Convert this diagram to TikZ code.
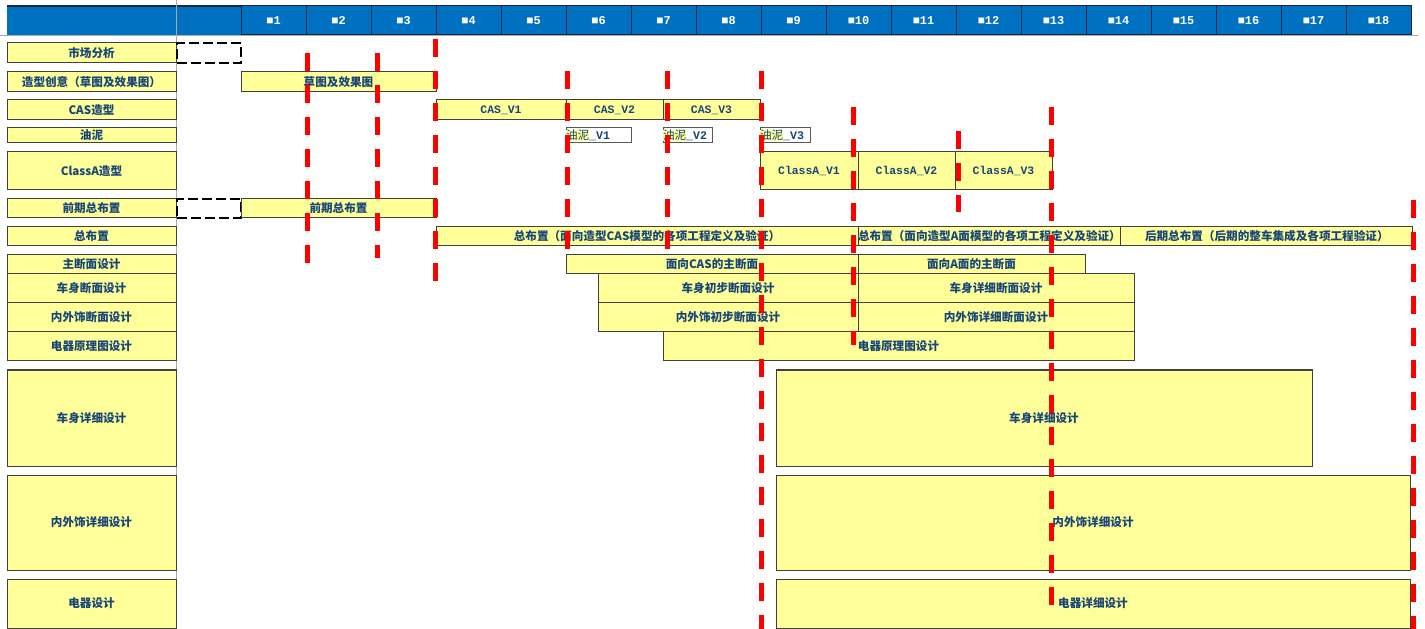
\documentclass[tikz,border=0pt]{standalone}
\usepackage{fontspec}
\setmainfont{Noto Sans CJK SC}
\setmonofont{Liberation Mono}
\usepackage{xcolor}
\usepackage{tikz}
\usetikzlibrary{positioning}

\definecolor{headblue}{RGB}{0,112,192}
\definecolor{headline}{RGB}{20,40,70}
\definecolor{barfill}{RGB}{255,255,153}
\definecolor{labelblue}{RGB}{25,70,120}
\definecolor{gridgray}{RGB}{170,170,170}
\setlength{\fboxsep}{0pt}

\begin{document}
\begin{tikzpicture}[
    x=0.2mm, y=-0.2mm,
    span/.style 2 args={minimum width=#1*0.2mm, minimum height=#2*0.2mm},
    bar/.style={rectangle, draw=black!75, line width=0.2mm, fill=barfill, inner sep=0pt,
                outer sep=0pt, text=labelblue, font=\bfseries\fontsize{6.6}{7.5}\selectfont},
    task/.style={bar},
    vers/.style={bar, font=\ttfamily\bfseries\fontsize{6.5}{7.5}\selectfont},
    clay/.style={bar, fill=white, draw=gray!70!black, align=left},
    plan/.style={rectangle, draw=black, line width=0.25mm, dash pattern=on 2mm off 0.8mm,
                 inner sep=0pt, outer sep=0pt},
    month/.style={rectangle, fill=headblue, draw=headline, line width=0.2mm, inner sep=0pt,
                  minimum width=65*0.2mm, minimum height=29*0.2mm, text=white,
                  font=\ttfamily\bfseries\fontsize{6.8}{8}\selectfont},
    milestone/.style={red, line width=1mm, dash pattern=on 3.6mm off 2.8mm}
]
\useasboundingbox (0,0) rectangle (1425,629);

% header band
\fill[headblue] (7,6) rectangle (1411,35);
\draw[headline, line width=0.3mm] (7,6) -- (1411,6);
\foreach \m in {1,...,18}
    \node[month] (m\m) at ({208.5+65*\m},20.5) {■\m};
\draw[gridgray] (0,35.5) -- (1418,35.5);
\draw[gridgray] (176.5,0) -- (176.5,629);

% task names
\node[task, span={169}{20}] (tMarket) at (91.5,53) {市场分析};
\node[task, span={169}{20}] (tIdea) at (91.5,82) {造型创意（草图及效果图）};
\node[task, span={169}{20}] (tCas) at (91.5,110) {CAS造型};
\node[task, span={169}{15}] (tClay) at (91.5,135.5) {油泥};
\node[task, span={169}{38}] (tClassA) at (91.5,171) {ClassA造型};
\node[task, span={169}{19}] (tPreLayout) at (91.5,208.5) {前期总布置};
\node[task, span={169}{19}] (tLayout) at (91.5,236.5) {总布置};
\node[task, span={169}{19}] (tSection) at (91.5,264.5) {主断面设计};
\node[task, span={169}{29}, below=0pt of tSection] (tBodySec) {车身断面设计};
\node[task, span={169}{29}, below=0pt of tBodySec] (tTrimSec) {内外饰断面设计};
\node[task, span={169}{29}, below=0pt of tTrimSec] (tElecSch) {电器原理图设计};
\node[task, span={169}{96}] (tBody) at (91.5,418) {车身详细设计};
\node[task, span={169}{95}] (tTrim) at (91.5,522.5) {内外饰详细设计};
\node[task, span={169}{49}] (tElec) at (91.5,603.5) {电器设计};

% bars
\node[plan, span={64}{20}] (market) at (209,53) {};
\node[bar, span={195}{20}] (sketch) at (338.5,82) {草图及效果图};
\node[vers, span={130}{20}] (casA) at (501,110) {CAS\_V1};
\node[vers, span={97}{20}, right=0pt of casA] (casB) {CAS\_V2};
\node[vers, span={97}{20}, right=0pt of casB] (casC) {CAS\_V3};
\node[clay, span={65}{15}, text width=13mm] (clayA) at (598.5,135.5) {\colorbox{barfill}{\mdseries 油泥}{\ttfamily\_V1}};
\node[clay, span={49}{15}, text width=9.8mm] (clayB) at (687.5,135.5) {\colorbox{barfill}{\mdseries 油泥}{\ttfamily\_V2}};
\node[clay, span={50}{15}, text width=10mm] (clayC) at (785,135.5) {\colorbox{barfill}{\mdseries 油泥}{\ttfamily\_V3}};
\node[vers, span={98}{38}] (classA1) at (809,171) {ClassA\_V1};
\node[vers, span={97}{38}, right=0pt of classA1] (classA2) {ClassA\_V2};
\node[vers, span={97}{38}, right=0pt of classA2] (classA3) {ClassA\_V3};
\node[plan, span={64}{19}] (prePlan) at (209,208.5) {};
\node[bar, span={195}{19}] (preLayout) at (338.5,208.5) {前期总布置};
\node[bar, span={422}{19}] (layoutA) at (647,236.5) {总布置（面向造型CAS模型的各项工程定义及验证）};
\node[bar, span={260}{19}, right=0pt of layoutA] (layoutB) {总布置（面向造型A面模型的各项工程定义及验证）};
\node[bar, span={292}{19}, right=0pt of layoutB] (layoutC) {后期总布置（后期的整车集成及各项工程验证）};
\node[bar, span={292}{19}] (secA) at (712,264.5) {面向CAS的主断面};
\node[bar, span={227}{19}, right=0pt of secA] (secB) {面向A面的主断面};
\node[bar, span={260}{29}] (bodySecA) at (728,288.5) {车身初步断面设计};
\node[bar, span={276}{29}, right=0pt of bodySecA] (bodySecB) {车身详细断面设计};
\node[bar, span={260}{29}, below=0pt of bodySecA] (trimSecA) {内外饰初步断面设计};
\node[bar, span={276}{29}, right=0pt of trimSecA] (trimSecB) {内外饰详细断面设计};
\node[bar, span={471}{29}] (elecSch) at (898.5,346.5) {电器原理图设计};
\node[bar, span={536}{96}] (body) at (1044,418) {车身详细设计};
\node[bar, span={634}{95}] (trim) at (1093,522.5) {内外饰详细设计};
\node[bar, span={634}{49}] (elec) at (1093,603.5) {电器详细设计};

% milestones
\foreach \x/\ya/\yb in {307/53/267, 377/53/258, 435/39/282, 567/71/255, 667/71/250,
                        761/71/629, 853/107/345, 958/131/212, 1051/107/612, 1413/200/629}
    \draw[milestone] (\x,\ya) -- (\x,\yb);
\end{tikzpicture}
\end{document}
